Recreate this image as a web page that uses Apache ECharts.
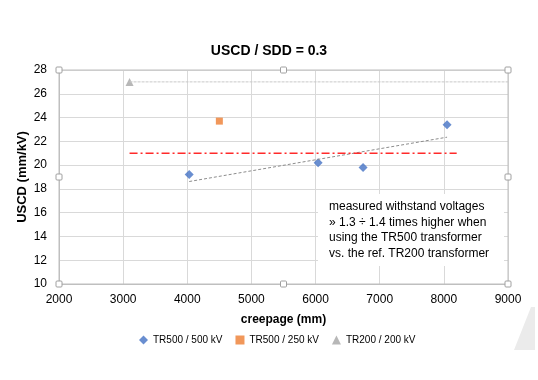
<!DOCTYPE html>
<html><head><meta charset="utf-8">
<script src="https://cdn.jsdelivr.net/npm/echarts@6/dist/echarts.min.js"></script>
<style>html,body{margin:0;padding:0;background:#fff}#c{width:538px;height:380px}</style>
</head><body><div id="c"></div>
<script>
const titleText = 'USCD / SDD = 0.3';
const xName = 'creepage (mm)';
const yName = 'USCD (mm/kV)';
const seriesNames = ['TR500 / 500 kV', 'TR500 / 250 kV', 'TR200 / 200 kV'];
const tr500_500 = [[4030, 19.2], [6040, 20.2], [6740, 19.8], [8050, 23.4]];
const tr500_250 = [[4500, 23.7]];
const tr200_200 = [[3100, 27.0]];
const trendTR500 = [[4030, 18.62], [8050, 22.35]];
const trendTR200 = [[3100, 27.0], [9000, 27.0]];
const refLine = [[3100, 21.0], [8200, 21.0]];
const noteLines = ['measured withstand voltages', '» 1.3 ÷ 1.4 times higher when', 'using the TR500 transformer', 'vs. the ref. TR200 transformer'];
const xMin = 2000, xMax = 9000, xStep = 1000;
const yMin = 10, yMax = 28, yStep = 2;

const FONT = '"Liberation Sans", Arial, sans-serif';
const chart = echarts.init(document.getElementById('c'));
const G = {left: 59, top: 70, right: 30, bottom: 96};
const option = {
  animation: false,
  textStyle: {fontFamily: FONT},
  title: {text: titleText, left: 'center', top: 39,
    textStyle: {fontFamily: FONT, fontSize: 14, fontWeight: 'bold', color: '#000'}},
  grid: G,
  xAxis: {type: 'value', min: xMin, max: xMax, interval: xStep,
    name: xName, nameLocation: 'middle', nameGap: 30, nameMoveOverlap: false,
    nameTextStyle: {fontFamily: FONT, fontSize: 12, fontWeight: 'bold', color: '#000'},
    axisLine: {show: true, lineStyle: {color: '#bfbfbf'}}, axisTick: {show: false},
    axisLabel: {fontSize: 12, color: '#000', margin: 10, formatter: function (v) { return String(v); }},
    splitLine: {show: true, lineStyle: {color: '#d9d9d9'}}},
  yAxis: {type: 'value', min: yMin, max: yMax, interval: yStep,
    name: yName, nameLocation: 'middle', nameGap: 30, nameRotate: 90, nameMoveOverlap: false,
    nameTextStyle: {fontFamily: FONT, fontSize: 13, fontWeight: 'bold', color: '#000'},
    axisLine: {show: true, lineStyle: {color: '#bfbfbf'}}, axisTick: {show: false},
    axisLabel: {fontSize: 12, color: '#000', margin: 12},
    splitLine: {show: true, lineStyle: {color: '#d9d9d9'}}},
  legend: {bottom: 30, left: 134, itemGap: 13, itemWidth: 9, itemHeight: 9,
    textStyle: {fontSize: 10, color: '#000'},
    data: [{name: seriesNames[0], icon: 'diamond'}, {name: seriesNames[1], icon: 'rect'}, {name: seriesNames[2], icon: 'triangle'}]},
  series: [
    {type: 'line', data: trendTR200, symbol: 'none', silent: true,
      lineStyle: {color: '#c8c8c8', width: 1, type: [3, 1]}},
    {type: 'line', data: trendTR500, symbol: 'none', silent: true,
      lineStyle: {color: '#8c8c8c', width: 1, type: [3, 2]}},
    {type: 'line', data: refLine, symbol: 'none', silent: true,
      lineStyle: {color: '#ff2a2a', width: 1.5, type: [8, 3, 2, 3]}},
    {name: seriesNames[0], type: 'scatter', data: tr500_500, symbol: 'diamond', symbolSize: 9,
      itemStyle: {color: '#4472C4'}},
    {name: seriesNames[1], type: 'scatter', data: tr500_250, symbol: 'rect', symbolSize: 7,
      itemStyle: {color: '#ED7D31'}},
    {name: seriesNames[2], type: 'scatter', data: tr200_200, symbol: 'triangle', symbolSize: 8,
      itemStyle: {color: '#A5A5A5'}}
  ]
};
chart.setOption(option);

// plot-area frame, selection handles, note box and slide decoration
const p0 = chart.convertToPixel({gridIndex: 0}, [xMin, yMin]);
const p1 = chart.convertToPixel({gridIndex: 0}, [xMax, yMax]);
const L = p0[0], B = p0[1], R = p1[0], T = p1[1];
const mx = (L + R) / 2, my = (T + B) / 2;
const handles = [[L, T], [mx, T], [R, T], [L, my], [R, my], [L, B], [mx, B], [R, B]];
const graphics = [
  {type: 'rect', shape: {x: L, y: T, width: R - L, height: B - T}, z: 1,
    style: {fill: 'none', stroke: '#bfbfbf', lineWidth: 1}},
  {type: 'rect', shape: {x: 318, y: 194, width: 186, height: 72}, z: 50,
    style: {fill: '#fff', stroke: 'none'}},
  {type: 'text', x: 329, y: 199, z: 51,
    style: {text: noteLines.join('\n'), fontFamily: FONT, fontSize: 12, lineHeight: 15.6, fill: '#000'}},
  {type: 'polygon', shape: {points: [[531, 307], [535, 307], [535, 350], [514, 350]]}, z: 1,
    style: {fill: '#ebebeb'}}
];
handles.forEach(function (h) {
  graphics.push({type: 'rect', shape: {x: h[0] - 3, y: h[1] - 3, width: 6, height: 6, r: 1}, z: 60,
    style: {fill: '#fff', stroke: '#a0a0a0', lineWidth: 1}});
});
chart.setOption({graphic: graphics});
</script>
</body></html>
